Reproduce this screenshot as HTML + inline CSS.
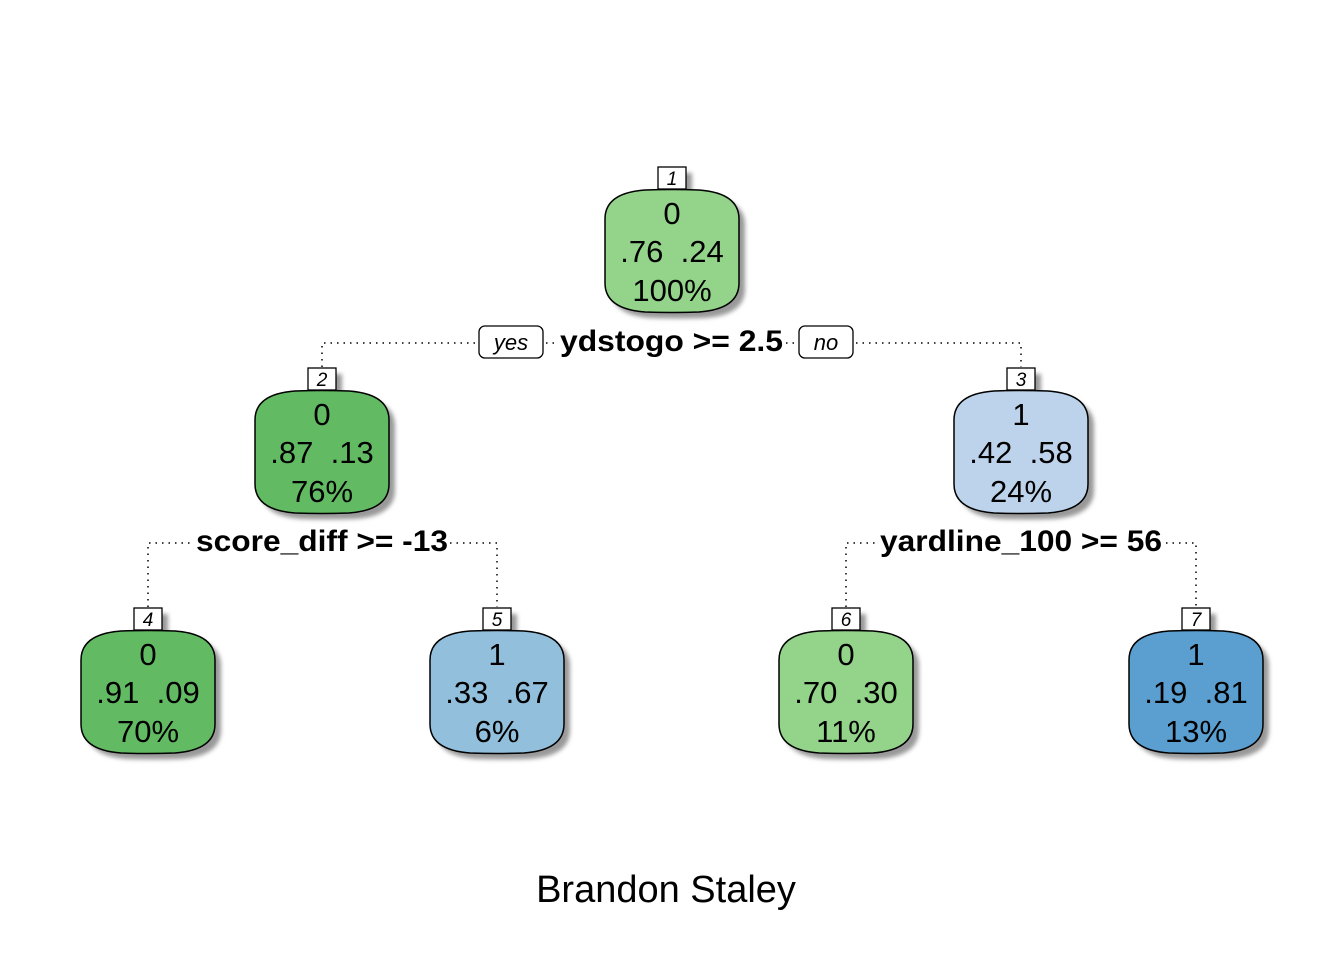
<!DOCTYPE html>
<html><head><meta charset="utf-8"><style>
html,body{margin:0;padding:0;background:#fff;}
svg{display:block;font-family:"Liberation Sans",Arial,sans-serif;}
</style></head><body>
<svg width="1344" height="960" viewBox="0 0 1344 960" xmlns="http://www.w3.org/2000/svg">
<defs>
<filter id="b" x="-20%" y="-20%" width="140%" height="140%"><feGaussianBlur stdDeviation="2"/></filter>
<path id="n" d="M0,30 Q0,4 40,1 Q67,0 94,1 Q134,4 134,30 V94 Q134,120 94,123 Q67,124 40,123 Q0,120 0,94 Z"/>
</defs>
<g stroke="#000" stroke-width="1.5" stroke-dasharray="1.5,5" fill="none">
<path d="M322,367 V343 H476 M546,343 H558 M786,343 H797 M856,343 H1021 V367"/>
<path d="M148,607 V543 H194 M450,543 H497 V607"/>
<path d="M846,607 V543 H877 M1166,543 H1196 V607"/>
</g>
<g>
<rect x="479" y="326" width="64" height="32" rx="6" fill="#fff" stroke="#000" stroke-width="1.3"/>
<text x="511" y="350" font-size="22" font-style="italic" text-anchor="middle">yes</text>
<rect x="799" y="326" width="54" height="32" rx="6" fill="#fff" stroke="#000" stroke-width="1.3"/>
<text x="826" y="350" font-size="22" font-style="italic" text-anchor="middle">no</text>
<text x="560" y="351" font-size="30" font-weight="bold" textLength="223" lengthAdjust="spacingAndGlyphs">ydstogo &gt;= 2.5</text>
<text x="196" y="551" font-size="30" font-weight="bold" textLength="252" lengthAdjust="spacingAndGlyphs">score_diff &gt;= -13</text>
<text x="880" y="551" font-size="30" font-weight="bold" textLength="282" lengthAdjust="spacingAndGlyphs">yardline_100 &gt;= 56</text>
</g>
<g font-size="31" text-anchor="middle">
<g transform="translate(605,189)">
<rect x="59" y="-16" width="28" height="22" fill="#999" filter="url(#b)"/>
<use href="#n" x="6" y="6" fill="#999" filter="url(#b)"/>
<use href="#n" fill="#93D38A" stroke="#000" stroke-width="1.5"/>
<rect x="53" y="-22" width="28" height="22" fill="#fff" stroke="#000" stroke-width="1.3"/>
<text x="67" y="-4" font-size="19" font-style="italic">1</text>
<text x="67" y="35">0</text><text x="67" y="73" xml:space="preserve">.76  .24</text><text x="67" y="112">100%</text>
</g>
<g transform="translate(255,390)">
<rect x="59" y="-16" width="28" height="22" fill="#999" filter="url(#b)"/>
<use href="#n" x="6" y="6" fill="#999" filter="url(#b)"/>
<use href="#n" fill="#62BA63" stroke="#000" stroke-width="1.5"/>
<rect x="53" y="-22" width="28" height="22" fill="#fff" stroke="#000" stroke-width="1.3"/>
<text x="67" y="-4" font-size="19" font-style="italic">2</text>
<text x="67" y="35">0</text><text x="67" y="73" xml:space="preserve">.87  .13</text><text x="67" y="112">76%</text>
</g>
<g transform="translate(954,390)">
<rect x="59" y="-16" width="28" height="22" fill="#999" filter="url(#b)"/>
<use href="#n" x="6" y="6" fill="#999" filter="url(#b)"/>
<use href="#n" fill="#BDD3EC" stroke="#000" stroke-width="1.5"/>
<rect x="53" y="-22" width="28" height="22" fill="#fff" stroke="#000" stroke-width="1.3"/>
<text x="67" y="-4" font-size="19" font-style="italic">3</text>
<text x="67" y="35">1</text><text x="67" y="73" xml:space="preserve">.42  .58</text><text x="67" y="112">24%</text>
</g>
<g transform="translate(81,630)">
<rect x="59" y="-16" width="28" height="22" fill="#999" filter="url(#b)"/>
<use href="#n" x="6" y="6" fill="#999" filter="url(#b)"/>
<use href="#n" fill="#62BA63" stroke="#000" stroke-width="1.5"/>
<rect x="53" y="-22" width="28" height="22" fill="#fff" stroke="#000" stroke-width="1.3"/>
<text x="67" y="-4" font-size="19" font-style="italic">4</text>
<text x="67" y="35">0</text><text x="67" y="73" xml:space="preserve">.91  .09</text><text x="67" y="112">70%</text>
</g>
<g transform="translate(430,630)">
<rect x="59" y="-16" width="28" height="22" fill="#999" filter="url(#b)"/>
<use href="#n" x="6" y="6" fill="#999" filter="url(#b)"/>
<use href="#n" fill="#92BFDC" stroke="#000" stroke-width="1.5"/>
<rect x="53" y="-22" width="28" height="22" fill="#fff" stroke="#000" stroke-width="1.3"/>
<text x="67" y="-4" font-size="19" font-style="italic">5</text>
<text x="67" y="35">1</text><text x="67" y="73" xml:space="preserve">.33  .67</text><text x="67" y="112">6%</text>
</g>
<g transform="translate(779,630)">
<rect x="59" y="-16" width="28" height="22" fill="#999" filter="url(#b)"/>
<use href="#n" x="6" y="6" fill="#999" filter="url(#b)"/>
<use href="#n" fill="#93D38A" stroke="#000" stroke-width="1.5"/>
<rect x="53" y="-22" width="28" height="22" fill="#fff" stroke="#000" stroke-width="1.3"/>
<text x="67" y="-4" font-size="19" font-style="italic">6</text>
<text x="67" y="35">0</text><text x="67" y="73" xml:space="preserve">.70  .30</text><text x="67" y="112">11%</text>
</g>
<g transform="translate(1129,630)">
<rect x="59" y="-16" width="28" height="22" fill="#999" filter="url(#b)"/>
<use href="#n" x="6" y="6" fill="#999" filter="url(#b)"/>
<use href="#n" fill="#5A9FCF" stroke="#000" stroke-width="1.5"/>
<rect x="53" y="-22" width="28" height="22" fill="#fff" stroke="#000" stroke-width="1.3"/>
<text x="67" y="-4" font-size="19" font-style="italic">7</text>
<text x="67" y="35">1</text><text x="67" y="73" xml:space="preserve">.19  .81</text><text x="67" y="112">13%</text>
</g>
</g>
<text x="666" y="902" font-size="38" text-anchor="middle">Brandon Staley</text>
</svg>
</body></html>
